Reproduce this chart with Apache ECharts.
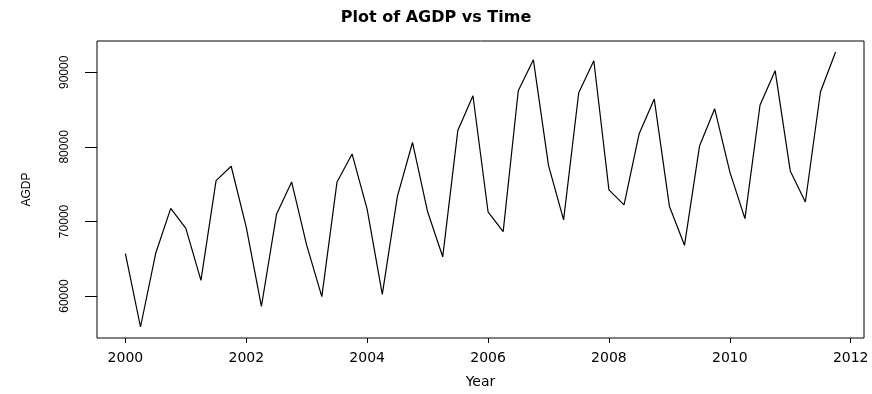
<!DOCTYPE html>
<html>
<head>
<meta charset="utf-8">
<script src="https://cdn.jsdelivr.net/npm/echarts@6/dist/echarts.min.js"></script>
<style>
html,body{margin:0;padding:0;background:#fff;}
#chart{width:872px;height:394px;}
</style>
</head>
<body>
<div id="chart"></div>
<script>
// Quarterly series, starting 2000 Q1
var startYear = 2000;
var perYear = 4;
var agdp = [65700, 55850, 65700, 71750, 69070, 62100, 75470, 77400,
            69200, 58600, 70960, 75300, 66800, 59920, 75250, 79050,
            71620, 60220, 73360, 80590, 71300, 65260, 82210, 86860,
            71300, 68630, 87520, 91670, 77530, 70210, 87250, 91540,
            74240, 72220, 81770, 86410, 72050, 66800, 80160, 85100,
            76650, 70380, 85620, 90220, 76780, 72610, 87390, 92720];
var xTicks = [2000, 2002, 2004, 2006, 2008, 2010, 2012];
var yTicks = [60000, 70000, 80000, 90000];
var xRange = [1999.53, 2012.22];
var yRange = [54375, 94195];

var seriesData = agdp.map(function (v, i) { return [startYear + i / perYear, v]; });

var chart = echarts.init(document.getElementById('chart'), null, {renderer: 'canvas'});
chart.setOption({
  animation: false,
  backgroundColor: '#ffffff',
  title: {
    text: 'Plot of AGDP vs Time',
    left: 'center',
    top: 5,
    textStyle: {fontFamily: 'DejaVu Sans', fontWeight: 'bold', fontSize: 16, color: '#000'}
  },
  grid: {left: 97, right: 8, top: 41, bottom: 50, show: true, borderColor: '#000', borderWidth: 1, backgroundColor: 'transparent'},
  xAxis: {
    type: 'value',
    min: xRange[0], max: xRange[1],
    name: 'Year', nameLocation: 'middle', nameGap: 37,
    nameTextStyle: {fontFamily: 'DejaVu Sans', fontSize: 14, color: '#000'},
    axisLine: {show: false},
    splitLine: {show: false},
    axisTick: {show: true, length: 5, customValues: xTicks, lineStyle: {color: '#000', width: 1}},
    axisLabel: {customValues: xTicks, margin: 13, fontFamily: 'DejaVu Sans', fontSize: 14, color: '#000',
      formatter: function (v) { return String(v); }}
  },
  yAxis: {
    type: 'value',
    min: yRange[0], max: yRange[1],
    name: 'AGDP', nameLocation: 'middle', nameGap: 64,
    nameTextStyle: {fontFamily: 'Liberation Sans Narrow, Liberation Sans', fontSize: 12, color: '#000'},
    axisLine: {show: false},
    splitLine: {show: false},
    axisTick: {show: true, length: 12, customValues: yTicks, lineStyle: {color: '#000', width: 1}},
    axisLabel: {customValues: yTicks, rotate: 90, margin: 26, fontFamily: 'Liberation Sans Narrow, Liberation Sans', fontSize: 12, color: '#000',
      formatter: function (v) { return String(v); }}
  },
  series: [{
    type: 'line',
    data: seriesData,
    showSymbol: false,
    symbol: 'none',
    lineStyle: {color: '#000', width: 1.2},
    silent: true
  }]
});
</script>
</body>
</html>
